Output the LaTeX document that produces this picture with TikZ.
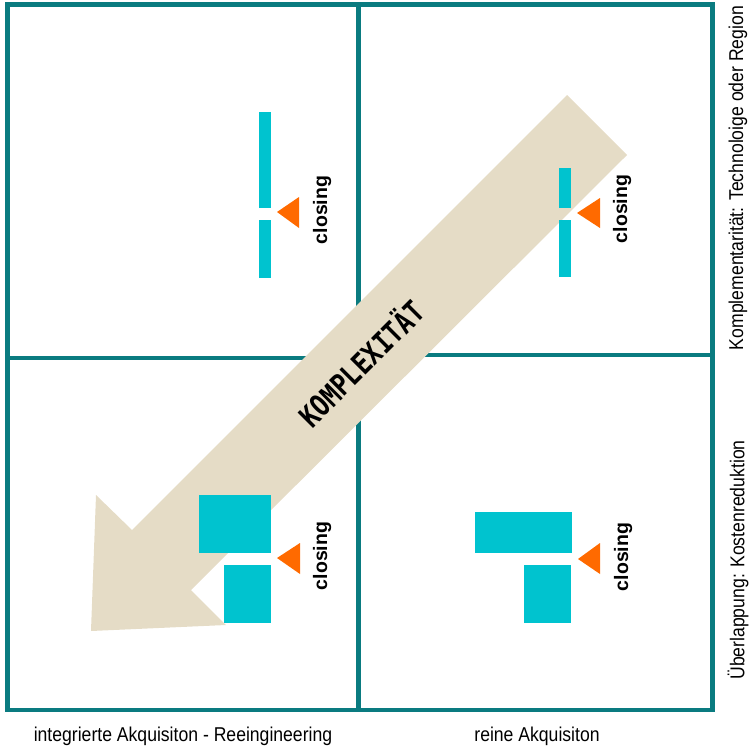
\documentclass[tikz,border=0pt]{standalone}
\usepackage{fontspec}
\setmainfont{Liberation Sans}
\newfontfamily\condfont[FakeStretch=0.88]{Liberation Sans}
\newfontfamily\arrowfont[FakeStretch=0.82]{DejaVu Sans Mono}
\definecolor{frameteal}{HTML}{0A7B80}
\definecolor{blockcyan}{HTML}{00C3CF}
\definecolor{markorange}{HTML}{FF6A00}
\definecolor{arrowbeige}{HTML}{E5DCC6}
\begin{document}
\begin{tikzpicture}[x=1pt, y=-1pt,
  grid/.style={draw=frameteal, line width=4.6pt},
  block/.style={fill=blockcyan},
  marker/.style={fill=markorange},
  closing/.style={rotate=90, inner sep=0pt, font=\fontsize{19.5}{19.5}\selectfont\bfseries},
  axis/.style={inner sep=0pt, font=\condfont\fontsize{20}{20}\selectfont}]
\useasboundingbox (0,0) rectangle (748,752);
% frame and quadrants
\draw[grid] (7.5,4.5) rectangle (712.5,710);
\draw[grid] (358.5,4.5) -- (358.5,710);
\draw[grid] (7.5,358) -- (358.5,358);
\draw[grid] (358.5,355) -- (712.5,355);
% big arrow
\fill[arrowbeige] (567,95) -- (132,530) -- (96,495) -- (91,631) -- (226,625) -- (191,590) -- (627,155) -- cycle;
\node[rotate=45, inner sep=0pt, font=\arrowfont\bfseries\fontsize{30}{30}\selectfont] (kompl) at (360,362) {KOMPLEXITÄT};
% top left: two bars
\fill[block] (259,112) rectangle (271,208);
\fill[block] (259,220) rectangle (271,278);
\fill[marker] (277,212) -- (299,197) -- (299,228) -- cycle;
\node[closing] (cl1) at (322,210) {closing};
% top right: short bar over long bar
\fill[block] (559,168) rectangle (571,208);
\fill[block] (559,220) rectangle (571,277);
\fill[marker] (577,213) -- (600,198) -- (600,228) -- cycle;
\node[closing] (cl2) at (622,209) {closing};
% bottom left: two squares
\fill[block] (199,495) rectangle (271,553);
\fill[block] (224,565) rectangle (271,623);
\fill[marker] (277,558) -- (300,543) -- (300,574) -- cycle;
\node[closing] (cl3) at (322,556) {closing};
% bottom right: wide bar on square
\fill[block] (475,512) rectangle (572,553);
\fill[block] (524,565) rectangle (571,623);
\fill[marker] (578,559) -- (600,543) -- (600,574) -- cycle;
\node[closing] (cl4) at (623,557) {closing};
% axis labels
\node[axis] (bottomleft) at (183,736) {integrierte Akquisiton - Reeingineering};
\node[axis] (bottomright) at (537,736) {reine Akquisiton};
\node[axis, rotate=90] (righttop) at (738,178) {Komplementarität: Technoloige oder Region};
\node[axis, rotate=90] (rightbottom) at (738,560) {Überlappung: Kostenreduktion};
\end{tikzpicture}
\end{document}
